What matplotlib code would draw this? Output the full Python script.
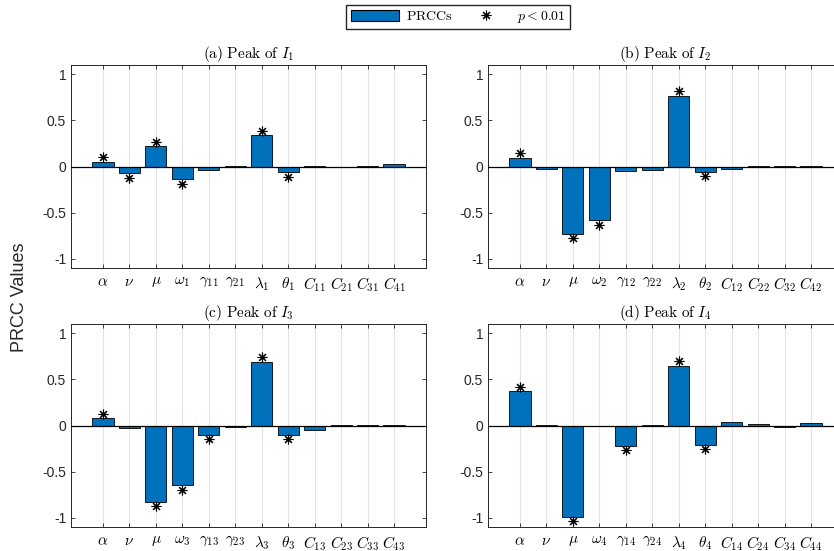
import numpy as np
import matplotlib
matplotlib.use("Agg")
import matplotlib.pyplot as plt
from matplotlib.patches import Patch
from matplotlib.lines import Line2D

plt.rcParams['font.family'] = ['Liberation Sans', 'DejaVu Sans']
plt.rcParams['mathtext.fontset'] = 'cm'

# PRCC values
prcc_a = [0.05, -0.07, 0.22, -0.14, -0.035, 0.005, 0.34, -0.06, 0.003, -0.003, 0.005, 0.025]
prcc_b = [0.094, -0.025, -0.73, -0.58, -0.047, -0.033, 0.765, -0.058, -0.03, 0.005, 0.01, 0.005]
prcc_c = [0.076, -0.025, -0.825, -0.65, -0.10, -0.015, 0.69, -0.10, -0.045, 0.01, 0.003, 0.003]
prcc_d = [0.37, 0.008, -0.99, -0.003, -0.22, 0.01, 0.644, -0.21, 0.033, 0.015, -0.012, 0.03]

# significant (p < 0.01)
sig_a = [1, 1, 1, 1, 0, 0, 1, 1, 0, 0, 0, 0]
sig_b = [1, 0, 1, 1, 0, 0, 1, 1, 0, 0, 0, 0]
sig_c = [1, 0, 1, 1, 1, 0, 1, 1, 0, 0, 0, 0]
sig_d = [1, 0, 1, 0, 1, 0, 1, 1, 0, 0, 0, 0]

labels_a = [r'$\alpha$', r'$\nu$', r'$\mu$', r'$\omega_1$', r'$\gamma_{11}$', r'$\gamma_{21}$',
            r'$\lambda_1$', r'$\theta_1$', r'$C_{11}$', r'$C_{21}$', r'$C_{31}$', r'$C_{41}$']
labels_b = [r'$\alpha$', r'$\nu$', r'$\mu$', r'$\omega_2$', r'$\gamma_{12}$', r'$\gamma_{22}$',
            r'$\lambda_2$', r'$\theta_2$', r'$C_{12}$', r'$C_{22}$', r'$C_{32}$', r'$C_{42}$']
labels_c = [r'$\alpha$', r'$\nu$', r'$\mu$', r'$\omega_3$', r'$\gamma_{13}$', r'$\gamma_{23}$',
            r'$\lambda_3$', r'$\theta_3$', r'$C_{13}$', r'$C_{23}$', r'$C_{33}$', r'$C_{43}$']
labels_d = [r'$\alpha$', r'$\nu$', r'$\mu$', r'$\omega_4$', r'$\gamma_{14}$', r'$\gamma_{24}$',
            r'$\lambda_4$', r'$\theta_4$', r'$C_{14}$', r'$C_{24}$', r'$C_{34}$', r'$C_{44}$']

titles = [r'$\mathrm{(a)\ Peak\ of\ }I_1$', r'$\mathrm{(b)\ Peak\ of\ }I_2$',
          r'$\mathrm{(c)\ Peak\ of\ }I_3$', r'$\mathrm{(d)\ Peak\ of\ }I_4$']

bar_color = '#0072BD'
axis_color = '#262626'
star = (8, 2, 0)

fig = plt.figure(figsize=(8.34, 5.51), dpi=100)
W, H = 834, 551
positions = [(71, 65), (488, 65), (71, 324), (488, 324)]
aw, ah = 355, 203

panels = [(prcc_a, sig_a, labels_a), (prcc_b, sig_b, labels_b),
          (prcc_c, sig_c, labels_c), (prcc_d, sig_d, labels_d)]

for (px, py), (vals, sig, labs), title in zip(positions, panels, titles):
    ax = fig.add_axes([px / W, 1 - (py + ah) / H, aw / W, ah / H])
    x = np.arange(len(vals))
    vals = np.array(vals)
    ax.bar(x, vals, width=0.8, color=bar_color, edgecolor='k', linewidth=0.6, zorder=2)
    ax.axhline(0, color='k', linewidth=0.9, zorder=3)
    s = np.array(sig, dtype=bool)
    ax.plot(x[s], vals[s] + 0.05 * np.sign(vals[s]), ls='none', marker=star,
            color='k', markersize=7, markeredgewidth=0.8, zorder=4)
    ax.set_xticks(x)
    ax.set_xticklabels(labs, fontsize=11)
    ax.set_xlim(-1.21, len(vals) - 1 + 1.21)
    ax.set_ylim(-1.1, 1.1)
    ax.set_yticks([-1, -0.5, 0, 0.5, 1])
    ax.set_yticklabels(['-1', '-0.5', '0', '0.5', '1'], fontsize=10, color=axis_color)
    ax.grid(axis='x', color='#e3e3e3', linewidth=0.8, zorder=0)
    ax.set_axisbelow(True)
    ax.tick_params(direction='in', top=True, right=True, length=3, color=axis_color, width=0.6)
    ax.tick_params(axis='x', pad=5)
    for sp in ax.spines.values():
        sp.set_color(axis_color)
        sp.set_linewidth(0.7)
    ax.set_title(title, fontsize=11, pad=5)

fig.text(20 / W, 1 - 297 / H, 'PRCC Values', rotation=90, ha='center', va='center',
         fontsize=13, color=axis_color)

handles = [Patch(facecolor=bar_color, edgecolor='k', linewidth=0.8, label=r'$\mathrm{PRCCs}$'),
           Line2D([], [], ls='none', marker=star, color='k', markersize=7,
                  markeredgewidth=0.8, label=r'$p < 0.01$')]
fig.legend(handles=handles, loc='upper center', bbox_to_anchor=(458 / W, 1 - 5 / H), ncol=2,
           fontsize=10, frameon=True, fancybox=False, edgecolor=axis_color, framealpha=1,
           handlelength=3.5, handleheight=0.9, handletextpad=0.5, columnspacing=0.6,
           borderpad=0.3, borderaxespad=0)

fig.savefig('out.png', dpi=100)
